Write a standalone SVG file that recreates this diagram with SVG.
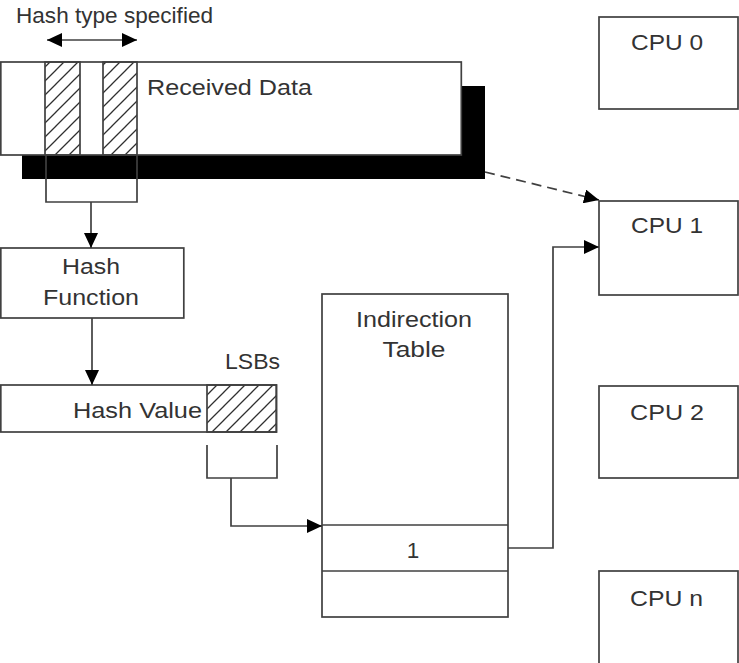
<svg xmlns="http://www.w3.org/2000/svg" width="739" height="663" viewBox="0 0 739 663">
<style>
.box{fill:#fff;stroke:#404040;stroke-width:1.7}
.hatch{fill:url(#hp);stroke:#404040;stroke-width:1.7}
.ln{fill:none;stroke:#404040;stroke-width:1.7}
.t{font-family:"Liberation Sans",Arial,sans-serif;font-size:22.5px;fill:#333}
.c{text-anchor:middle}
</style>
<defs>
<pattern id="hp" patternUnits="userSpaceOnUse" width="14" height="14">
<path d="M-1,15 L15,-1 M-4,4 L4,-4 M10,18 L18,10" stroke="#303030" stroke-width="1.3"/>
</pattern>
<marker id="ah" markerUnits="userSpaceOnUse" markerWidth="15" markerHeight="14" refX="15" refY="7" orient="auto-start-reverse" viewBox="0 0 15 14">
<path d="M0,0 L15,7 L0,14 z" fill="#000"/>
</marker>
</defs>

<g id="hash-type-label">
<text class="t" x="16" y="23" font-size="20" textLength="197" lengthAdjust="spacingAndGlyphs">Hash type specified</text>
</g>

<g id="received-data">
<rect x="22" y="86" width="463" height="93" fill="#000"/>
<rect class="box" x="0.8" y="62" width="460.5" height="93"/>
<rect class="hatch" x="45" y="62" width="35" height="93"/>
<rect class="hatch" x="103" y="62" width="34" height="93"/>
<text class="t" x="147" y="95" textLength="165" lengthAdjust="spacingAndGlyphs">Received Data</text>
</g>

<g id="hash-function">
<rect class="box" x="0.8" y="248" width="183" height="70"/>
<text class="t c" x="91" y="274" textLength="58" lengthAdjust="spacingAndGlyphs">Hash</text>
<text class="t c" x="91" y="305" textLength="96" lengthAdjust="spacingAndGlyphs">Function</text>
</g>

<g id="hash-value">
<rect class="box" x="0.8" y="385" width="275.5" height="47"/>
<rect class="hatch" x="207" y="385" width="69.5" height="47"/>
<text class="t" x="73" y="418" textLength="129" lengthAdjust="spacingAndGlyphs">Hash Value</text>
<text class="t" x="225" y="369" textLength="55" lengthAdjust="spacingAndGlyphs">LSBs</text>
</g>

<g id="indirection-table">
<rect class="box" x="322" y="294" width="186" height="323"/>
<line class="ln" x1="322" y1="525" x2="508" y2="525"/>
<line class="ln" x1="322" y1="571" x2="508" y2="571"/>
<text class="t c" x="414" y="327" textLength="116" lengthAdjust="spacingAndGlyphs">Indirection</text>
<text class="t c" x="414" y="357" textLength="63" lengthAdjust="spacingAndGlyphs">Table</text>
<text class="t c" x="413" y="558">1</text>
</g>

<g id="cpu0">
<rect class="box" x="599" y="17" width="139" height="92"/>
<text class="t" x="631" y="50" textLength="72" lengthAdjust="spacingAndGlyphs">CPU 0</text>
</g>
<g id="cpu1">
<rect class="box" x="599" y="201" width="139" height="94"/>
<text class="t" x="631" y="233" textLength="72" lengthAdjust="spacingAndGlyphs">CPU 1</text>
</g>
<g id="cpu2">
<rect class="box" x="599" y="386" width="139" height="92"/>
<text class="t" x="630" y="420" textLength="74" lengthAdjust="spacingAndGlyphs">CPU 2</text>
</g>
<g id="cpun">
<rect class="box" x="599" y="571" width="139" height="100"/>
<text class="t" x="630" y="606" textLength="73" lengthAdjust="spacingAndGlyphs">CPU n</text>
</g>

<g id="connectors">
<line class="ln" x1="47" y1="40" x2="137" y2="40" marker-start="url(#ah)" marker-end="url(#ah)"/>
<path class="ln" d="M46,155 V202 H137 V155"/>
<path class="ln" d="M91,202 V248" marker-end="url(#ah)"/>
<path class="ln" d="M92,318 V385" marker-end="url(#ah)"/>
<path class="ln" d="M207,445 V478 H277 V445"/>
<path class="ln" d="M231,478 V526 H322" marker-end="url(#ah)"/>
<path class="ln" d="M508,548 H553 V247 H599" marker-end="url(#ah)"/>
<path class="ln" d="M485,172 L599,200" stroke-dasharray="10,6" marker-end="url(#ah)"/>
</g>
</svg>
